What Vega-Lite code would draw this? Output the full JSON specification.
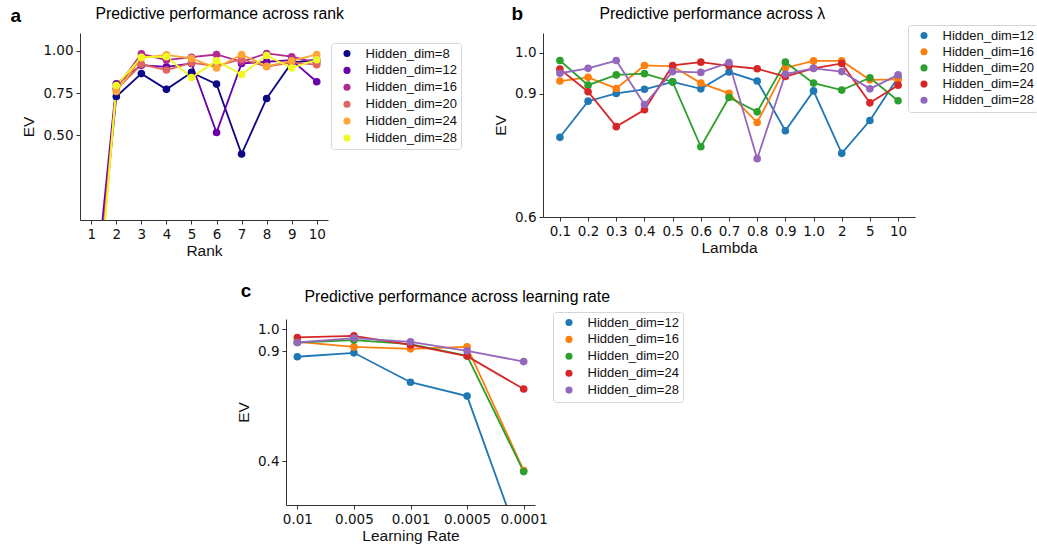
{
  "$schema": "https://vega.github.io/schema/vega-lite/v6.json",
  "background": "white",
  "padding": {"left": 10, "top": 4, "right": 0, "bottom": 0},
  "spacing": 22,
  "resolve": {"scale": {"color": "independent"}, "legend": {"color": "independent"}},
  "config": {
    "view": {"stroke": null},
    "axis": {"domainColor": "#333", "tickColor": "#333", "labelColor": "#111", "titleColor": "#111", "labelFont": "DejaVu Sans", "labelFontSize": 13.5, "titleFont": "Liberation Sans", "titleFontSize": 15.5, "titleFontWeight": "normal", "tickSize": 4, "labelPadding": 3, "grid": false, "domainWidth": 1},
    "legend": {"labelFont": "Liberation Sans", "labelFontSize": 13, "labelColor": "#111"}
  },
  "datasets": {
    "rankData": [
      {"dim": "Hidden_dim=8", "rank": 1, "ev": -0.75}, {"dim": "Hidden_dim=8", "rank": 2, "ev": 0.73}, {"dim": "Hidden_dim=8", "rank": 3, "ev": 0.865}, {"dim": "Hidden_dim=8", "rank": 4, "ev": 0.772}, {"dim": "Hidden_dim=8", "rank": 5, "ev": 0.872}, {"dim": "Hidden_dim=8", "rank": 6, "ev": 0.803}, {"dim": "Hidden_dim=8", "rank": 7, "ev": 0.39}, {"dim": "Hidden_dim=8", "rank": 8, "ev": 0.718}, {"dim": "Hidden_dim=8", "rank": 9, "ev": 0.93}, {"dim": "Hidden_dim=8", "rank": 10, "ev": 0.947},
      {"dim": "Hidden_dim=12", "rank": 1, "ev": -0.65}, {"dim": "Hidden_dim=12", "rank": 2, "ev": 0.805}, {"dim": "Hidden_dim=12", "rank": 3, "ev": 0.915}, {"dim": "Hidden_dim=12", "rank": 4, "ev": 0.905}, {"dim": "Hidden_dim=12", "rank": 5, "ev": 0.925}, {"dim": "Hidden_dim=12", "rank": 6, "ev": 0.517}, {"dim": "Hidden_dim=12", "rank": 7, "ev": 0.925}, {"dim": "Hidden_dim=12", "rank": 8, "ev": 0.935}, {"dim": "Hidden_dim=12", "rank": 9, "ev": 0.945}, {"dim": "Hidden_dim=12", "rank": 10, "ev": 0.817},
      {"dim": "Hidden_dim=16", "rank": 1, "ev": -0.8}, {"dim": "Hidden_dim=16", "rank": 2, "ev": 0.78}, {"dim": "Hidden_dim=16", "rank": 3, "ev": 0.982}, {"dim": "Hidden_dim=16", "rank": 4, "ev": 0.945}, {"dim": "Hidden_dim=16", "rank": 5, "ev": 0.962}, {"dim": "Hidden_dim=16", "rank": 6, "ev": 0.978}, {"dim": "Hidden_dim=16", "rank": 7, "ev": 0.935}, {"dim": "Hidden_dim=16", "rank": 8, "ev": 0.984}, {"dim": "Hidden_dim=16", "rank": 9, "ev": 0.965}, {"dim": "Hidden_dim=16", "rank": 10, "ev": 0.93},
      {"dim": "Hidden_dim=20", "rank": 1, "ev": -0.85}, {"dim": "Hidden_dim=20", "rank": 2, "ev": 0.77}, {"dim": "Hidden_dim=20", "rank": 3, "ev": 0.92}, {"dim": "Hidden_dim=20", "rank": 4, "ev": 0.886}, {"dim": "Hidden_dim=20", "rank": 5, "ev": 0.928}, {"dim": "Hidden_dim=20", "rank": 6, "ev": 0.91}, {"dim": "Hidden_dim=20", "rank": 7, "ev": 0.95}, {"dim": "Hidden_dim=20", "rank": 8, "ev": 0.907}, {"dim": "Hidden_dim=20", "rank": 9, "ev": 0.93}, {"dim": "Hidden_dim=20", "rank": 10, "ev": 0.918},
      {"dim": "Hidden_dim=24", "rank": 1, "ev": -0.9}, {"dim": "Hidden_dim=24", "rank": 2, "ev": 0.76}, {"dim": "Hidden_dim=24", "rank": 3, "ev": 0.958}, {"dim": "Hidden_dim=24", "rank": 4, "ev": 0.976}, {"dim": "Hidden_dim=24", "rank": 5, "ev": 0.955}, {"dim": "Hidden_dim=24", "rank": 6, "ev": 0.898}, {"dim": "Hidden_dim=24", "rank": 7, "ev": 0.978}, {"dim": "Hidden_dim=24", "rank": 8, "ev": 0.908}, {"dim": "Hidden_dim=24", "rank": 9, "ev": 0.94}, {"dim": "Hidden_dim=24", "rank": 10, "ev": 0.978},
      {"dim": "Hidden_dim=28", "rank": 1, "ev": -1.0}, {"dim": "Hidden_dim=28", "rank": 2, "ev": 0.795}, {"dim": "Hidden_dim=28", "rank": 3, "ev": 0.962}, {"dim": "Hidden_dim=28", "rank": 4, "ev": 0.965}, {"dim": "Hidden_dim=28", "rank": 5, "ev": 0.842}, {"dim": "Hidden_dim=28", "rank": 6, "ev": 0.94}, {"dim": "Hidden_dim=28", "rank": 7, "ev": 0.86}, {"dim": "Hidden_dim=28", "rank": 8, "ev": 0.972}, {"dim": "Hidden_dim=28", "rank": 9, "ev": 0.898}, {"dim": "Hidden_dim=28", "rank": 10, "ev": 0.947}
    ],
    "lambdaData": [
      {"dim": "Hidden_dim=12", "lam": "0.1", "ev": 0.794}, {"dim": "Hidden_dim=12", "lam": "0.2", "ev": 0.882}, {"dim": "Hidden_dim=12", "lam": "0.3", "ev": 0.901}, {"dim": "Hidden_dim=12", "lam": "0.4", "ev": 0.911}, {"dim": "Hidden_dim=12", "lam": "0.5", "ev": 0.929}, {"dim": "Hidden_dim=12", "lam": "0.6", "ev": 0.912}, {"dim": "Hidden_dim=12", "lam": "0.7", "ev": 0.953}, {"dim": "Hidden_dim=12", "lam": "0.8", "ev": 0.931}, {"dim": "Hidden_dim=12", "lam": "0.9", "ev": 0.81}, {"dim": "Hidden_dim=12", "lam": "1.0", "ev": 0.907}, {"dim": "Hidden_dim=12", "lam": "2", "ev": 0.755}, {"dim": "Hidden_dim=12", "lam": "5", "ev": 0.835}, {"dim": "Hidden_dim=12", "lam": "10", "ev": 0.94},
      {"dim": "Hidden_dim=16", "lam": "0.1", "ev": 0.931}, {"dim": "Hidden_dim=16", "lam": "0.2", "ev": 0.94}, {"dim": "Hidden_dim=16", "lam": "0.3", "ev": 0.913}, {"dim": "Hidden_dim=16", "lam": "0.4", "ev": 0.969}, {"dim": "Hidden_dim=16", "lam": "0.5", "ev": 0.967}, {"dim": "Hidden_dim=16", "lam": "0.6", "ev": 0.926}, {"dim": "Hidden_dim=16", "lam": "0.7", "ev": 0.901}, {"dim": "Hidden_dim=16", "lam": "0.8", "ev": 0.83}, {"dim": "Hidden_dim=16", "lam": "0.9", "ev": 0.963}, {"dim": "Hidden_dim=16", "lam": "1.0", "ev": 0.98}, {"dim": "Hidden_dim=16", "lam": "2", "ev": 0.98}, {"dim": "Hidden_dim=16", "lam": "5", "ev": 0.934}, {"dim": "Hidden_dim=16", "lam": "10", "ev": 0.935},
      {"dim": "Hidden_dim=20", "lam": "0.1", "ev": 0.981}, {"dim": "Hidden_dim=20", "lam": "0.2", "ev": 0.921}, {"dim": "Hidden_dim=20", "lam": "0.3", "ev": 0.946}, {"dim": "Hidden_dim=20", "lam": "0.4", "ev": 0.949}, {"dim": "Hidden_dim=20", "lam": "0.5", "ev": 0.929}, {"dim": "Hidden_dim=20", "lam": "0.6", "ev": 0.771}, {"dim": "Hidden_dim=20", "lam": "0.7", "ev": 0.891}, {"dim": "Hidden_dim=20", "lam": "0.8", "ev": 0.856}, {"dim": "Hidden_dim=20", "lam": "0.9", "ev": 0.977}, {"dim": "Hidden_dim=20", "lam": "1.0", "ev": 0.926}, {"dim": "Hidden_dim=20", "lam": "2", "ev": 0.909}, {"dim": "Hidden_dim=20", "lam": "5", "ev": 0.939}, {"dim": "Hidden_dim=20", "lam": "10", "ev": 0.883},
      {"dim": "Hidden_dim=24", "lam": "0.1", "ev": 0.96}, {"dim": "Hidden_dim=24", "lam": "0.2", "ev": 0.905}, {"dim": "Hidden_dim=24", "lam": "0.3", "ev": 0.82}, {"dim": "Hidden_dim=24", "lam": "0.4", "ev": 0.861}, {"dim": "Hidden_dim=24", "lam": "0.5", "ev": 0.969}, {"dim": "Hidden_dim=24", "lam": "0.6", "ev": 0.977}, {"dim": "Hidden_dim=24", "lam": "0.7", "ev": 0.968}, {"dim": "Hidden_dim=24", "lam": "0.8", "ev": 0.961}, {"dim": "Hidden_dim=24", "lam": "0.9", "ev": 0.942}, {"dim": "Hidden_dim=24", "lam": "1.0", "ev": 0.962}, {"dim": "Hidden_dim=24", "lam": "2", "ev": 0.974}, {"dim": "Hidden_dim=24", "lam": "5", "ev": 0.878}, {"dim": "Hidden_dim=24", "lam": "10", "ev": 0.921},
      {"dim": "Hidden_dim=28", "lam": "0.1", "ev": 0.95}, {"dim": "Hidden_dim=28", "lam": "0.2", "ev": 0.962}, {"dim": "Hidden_dim=28", "lam": "0.3", "ev": 0.981}, {"dim": "Hidden_dim=28", "lam": "0.4", "ev": 0.874}, {"dim": "Hidden_dim=28", "lam": "0.5", "ev": 0.954}, {"dim": "Hidden_dim=28", "lam": "0.6", "ev": 0.952}, {"dim": "Hidden_dim=28", "lam": "0.7", "ev": 0.976}, {"dim": "Hidden_dim=28", "lam": "0.8", "ev": 0.742}, {"dim": "Hidden_dim=28", "lam": "0.9", "ev": 0.948}, {"dim": "Hidden_dim=28", "lam": "1.0", "ev": 0.962}, {"dim": "Hidden_dim=28", "lam": "2", "ev": 0.954}, {"dim": "Hidden_dim=28", "lam": "5", "ev": 0.912}, {"dim": "Hidden_dim=28", "lam": "10", "ev": 0.946}
    ],
    "lrData": [
      {"dim": "Hidden_dim=12", "lr": "0.01", "ev": 0.875}, {"dim": "Hidden_dim=12", "lr": "0.005", "ev": 0.893}, {"dim": "Hidden_dim=12", "lr": "0.001", "ev": 0.759}, {"dim": "Hidden_dim=12", "lr": "0.0005", "ev": 0.696}, {"dim": "Hidden_dim=12", "lr": "0.0001", "ev": -0.02},
      {"dim": "Hidden_dim=16", "lr": "0.01", "ev": 0.943}, {"dim": "Hidden_dim=16", "lr": "0.005", "ev": 0.92}, {"dim": "Hidden_dim=16", "lr": "0.001", "ev": 0.911}, {"dim": "Hidden_dim=16", "lr": "0.0005", "ev": 0.92}, {"dim": "Hidden_dim=16", "lr": "0.0001", "ev": 0.357},
      {"dim": "Hidden_dim=20", "lr": "0.01", "ev": 0.94}, {"dim": "Hidden_dim=20", "lr": "0.005", "ev": 0.951}, {"dim": "Hidden_dim=20", "lr": "0.001", "ev": 0.933}, {"dim": "Hidden_dim=20", "lr": "0.0005", "ev": 0.879}, {"dim": "Hidden_dim=20", "lr": "0.0001", "ev": 0.352},
      {"dim": "Hidden_dim=24", "lr": "0.01", "ev": 0.963}, {"dim": "Hidden_dim=24", "lr": "0.005", "ev": 0.97}, {"dim": "Hidden_dim=24", "lr": "0.001", "ev": 0.929}, {"dim": "Hidden_dim=24", "lr": "0.0005", "ev": 0.878}, {"dim": "Hidden_dim=24", "lr": "0.0001", "ev": 0.728},
      {"dim": "Hidden_dim=28", "lr": "0.01", "ev": 0.94}, {"dim": "Hidden_dim=28", "lr": "0.005", "ev": 0.96}, {"dim": "Hidden_dim=28", "lr": "0.001", "ev": 0.943}, {"dim": "Hidden_dim=28", "lr": "0.0005", "ev": 0.902}, {"dim": "Hidden_dim=28", "lr": "0.0001", "ev": 0.853}
    ]
  },
  "vconcat": [
    {
      "spacing": 31,
      "resolve": {"scale": {"color": "independent"}, "legend": {"color": "independent"}},
      "hconcat": [
        {
          "width": 248, "height": 187,
          "data": {"name": "rankData"},
          "layer": [
            {
              "mark": {"type": "line", "clip": true, "strokeWidth": 1.8},
              "encoding": {
                "x": {"field": "rank", "type": "ordinal", "scale": {"type": "point", "padding": 0.45}, "axis": {"orient": "bottom", "title": "Rank", "labelAngle": 0, "titlePadding": 3}},
                "y": {"field": "ev", "type": "quantitative", "scale": {"domain": [0, 1.105], "nice": false, "zero": false}, "axis": {"orient": "left", "title": "EV", "values": [0.5, 0.75, 1.0], "format": ".2f", "titlePadding": 6}},
                "color": {"field": "dim", "type": "nominal", "scale": {"domain": ["Hidden_dim=8", "Hidden_dim=12", "Hidden_dim=16", "Hidden_dim=20", "Hidden_dim=24", "Hidden_dim=28"], "range": ["#0d0887", "#6a00a8", "#b12a90", "#e16462", "#fca636", "#f0f921"]}, "legend": {"orient": "none", "legendX": 251, "legendY": 10, "title": null, "symbolType": "circle", "symbolSize": 50, "padding": 4, "symbolOffset": 5.5, "labelOffset": 12, "rowPadding": 2.9, "strokeColor": "#d5d5d5", "fillColor": "white", "cornerRadius": 3, "symbolStrokeWidth": 0}}
              }
            },
            {
              "mark": {"type": "point", "filled": true, "size": 58, "opacity": 1, "clip": true},
              "encoding": {
                "x": {"field": "rank", "type": "ordinal", "axis": {"orient": "top", "title": "Predictive performance across rank", "labels": false, "ticks": false, "domain": false, "titleX": 15, "titleY": -15, "titleAlign": "left", "titleBaseline": "alphabetic", "titleAngle": 0, "titleFontSize": 15.8, "titleColor": "black"}},
                "y": {"field": "ev", "type": "quantitative", "axis": {"orient": "right", "title": "a", "labels": false, "ticks": false, "domain": false, "titleX": -318, "titleY": -11.3, "titleAlign": "left", "titleBaseline": "alphabetic", "titleAngle": 0, "titleFontSize": 19, "titleFontWeight": "bold", "titleColor": "black"}},
                "color": {"field": "dim", "type": "nominal", "legend": {"orient": "none", "legendX": 251, "legendY": 10, "title": null, "symbolType": "circle", "symbolSize": 50, "padding": 4, "symbolOffset": 5.5, "labelOffset": 12, "rowPadding": 2.9, "strokeColor": "#d5d5d5", "fillColor": "white", "cornerRadius": 3, "symbolStrokeWidth": 0}}
              }
            }
          ],
          "resolve": {"axis": {"x": "independent", "y": "independent"}}
        },
        {
          "width": 372, "height": 184,
          "data": {"name": "lambdaData"},
          "layer": [
            {
              "mark": {"type": "line", "clip": true, "strokeWidth": 1.8},
              "encoding": {
                "x": {"field": "lam", "type": "ordinal", "scale": {"type": "point", "padding": 0.6, "domain": ["0.1", "0.2", "0.3", "0.4", "0.5", "0.6", "0.7", "0.8", "0.9", "1.0", "2", "5", "10"]}, "axis": {"orient": "bottom", "title": "Lambda", "labelAngle": 0, "titlePadding": 3}},
                "y": {"field": "ev", "type": "quantitative", "scale": {"domain": [0.6, 1.048], "nice": false, "zero": false}, "axis": {"orient": "left", "title": "EV", "values": [0.6, 0.9, 1.0], "format": ".1f", "titlePadding": 6}},
                "color": {"field": "dim", "type": "nominal", "scale": {"domain": ["Hidden_dim=12", "Hidden_dim=16", "Hidden_dim=20", "Hidden_dim=24", "Hidden_dim=28"], "range": ["#1f77b4", "#ff7f0e", "#2ca02c", "#d62728", "#9467bd"]}, "legend": {"orient": "none", "legendX": 365, "legendY": -8, "title": null, "symbolType": "circle", "symbolSize": 50, "padding": 4, "symbolOffset": 5.5, "labelOffset": 12, "rowPadding": 2.2, "strokeColor": "#d5d5d5", "fillColor": "white", "cornerRadius": 3, "symbolStrokeWidth": 0}}
              }
            },
            {
              "mark": {"type": "point", "filled": true, "size": 58, "opacity": 1, "clip": true},
              "encoding": {
                "x": {"field": "lam", "type": "ordinal", "axis": {"orient": "top", "title": "Predictive performance across λ", "labels": false, "ticks": false, "domain": false, "titleX": 56, "titleY": -15, "titleAlign": "left", "titleBaseline": "alphabetic", "titleAngle": 0, "titleFontSize": 15.8, "titleColor": "black"}},
                "y": {"field": "ev", "type": "quantitative", "axis": {"orient": "right", "title": "b", "labels": false, "ticks": false, "domain": false, "titleX": -404, "titleY": -13.7, "titleAlign": "left", "titleBaseline": "alphabetic", "titleAngle": 0, "titleFontSize": 19, "titleFontWeight": "bold", "titleColor": "black"}},
                "color": {"field": "dim", "type": "nominal", "legend": {"orient": "none", "legendX": 365, "legendY": -8, "title": null, "symbolType": "circle", "symbolSize": 50, "padding": 4, "symbolOffset": 5.5, "labelOffset": 12, "rowPadding": 2.2, "strokeColor": "#d5d5d5", "fillColor": "white", "cornerRadius": 3, "symbolStrokeWidth": 0}}
              }
            }
          ],
          "resolve": {"axis": {"x": "independent", "y": "independent"}}
        }
      ]
    },
    {
      "spacing": 0,
      "resolve": {"scale": {"color": "independent"}, "legend": {"color": "independent"}},
      "hconcat": [
        {"width": 156, "height": 1, "data": {"values": []}, "mark": {"type": "point", "opacity": 0}},
        {
          "width": 249, "height": 186,
          "data": {"name": "lrData"},
          "layer": [
            {
              "mark": {"type": "line", "clip": true, "strokeWidth": 1.8},
              "encoding": {
                "x": {"field": "lr", "type": "ordinal", "scale": {"type": "point", "padding": 0.2, "domain": ["0.01", "0.005", "0.001", "0.0005", "0.0001"]}, "axis": {"orient": "bottom", "title": "Learning Rate", "labelAngle": 0, "titlePadding": 3}},
                "y": {"field": "ev", "type": "quantitative", "scale": {"domain": [0.2, 1.047], "nice": false, "zero": false}, "axis": {"orient": "left", "title": "EV", "values": [0.4, 0.9, 1.0], "format": ".1f", "titlePadding": 6}},
                "color": {"field": "dim", "type": "nominal", "scale": {"domain": ["Hidden_dim=12", "Hidden_dim=16", "Hidden_dim=20", "Hidden_dim=24", "Hidden_dim=28"], "range": ["#1f77b4", "#ff7f0e", "#2ca02c", "#d62728", "#9467bd"]}, "legend": {"orient": "none", "legendX": 267, "legendY": -7, "title": null, "symbolType": "circle", "symbolSize": 50, "padding": 4, "symbolOffset": 5.5, "labelOffset": 12, "rowPadding": 2.9, "strokeColor": "#d5d5d5", "fillColor": "white", "cornerRadius": 3, "symbolStrokeWidth": 0}}
              }
            },
            {
              "mark": {"type": "point", "filled": true, "size": 58, "opacity": 1, "clip": true},
              "encoding": {
                "x": {"field": "lr", "type": "ordinal", "axis": {"orient": "top", "title": "Predictive performance across learning rate", "labels": false, "ticks": false, "domain": false, "titleX": 18, "titleY": -17.3, "titleAlign": "left", "titleBaseline": "alphabetic", "titleAngle": 0, "titleFontSize": 15.8, "titleColor": "black"}},
                "y": {"field": "ev", "type": "quantitative", "axis": {"orient": "right", "title": "c", "labels": false, "ticks": false, "domain": false, "titleX": -294.7, "titleY": -23, "titleAlign": "left", "titleBaseline": "alphabetic", "titleAngle": 0, "titleFontSize": 19, "titleFontWeight": "bold", "titleColor": "black"}},
                "color": {"field": "dim", "type": "nominal", "legend": {"orient": "none", "legendX": 267, "legendY": -7, "title": null, "symbolType": "circle", "symbolSize": 50, "padding": 4, "symbolOffset": 5.5, "labelOffset": 12, "rowPadding": 2.9, "strokeColor": "#d5d5d5", "fillColor": "white", "cornerRadius": 3, "symbolStrokeWidth": 0}}
              }
            }
          ],
          "resolve": {"axis": {"x": "independent", "y": "independent"}}
        }
      ]
    }
  ]
}
